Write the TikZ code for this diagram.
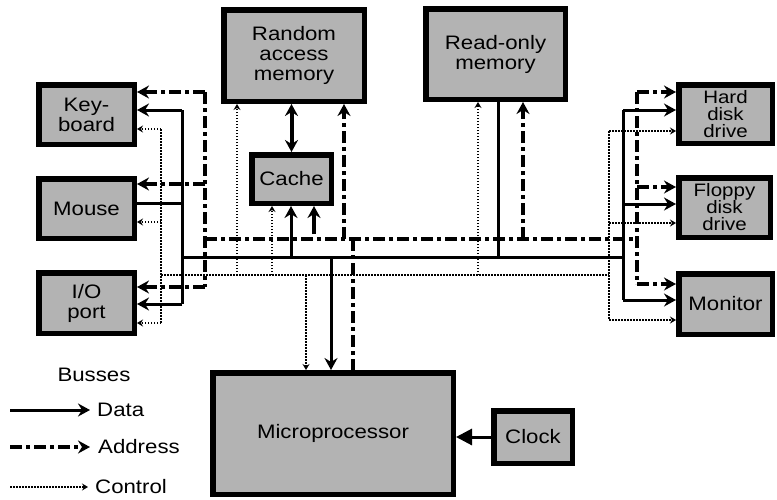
\documentclass[tikz,border=0pt]{standalone}
\usepackage{fontspec}
\setmainfont{Liberation Sans}[FakeStretch=1.14]
\usetikzlibrary{arrows.meta}
\definecolor{boxgray}{RGB}{179,179,179}
\tikzset{
  unit/.style={draw=black, fill=boxgray, line width=5.5pt, inner sep=0pt,
    align=center, font=\fontsize{19.5}{20}\selectfont},
  tightunit/.style={unit, font=\fontsize{18}{17}\selectfont},
  databus/.style={line width=3pt},
  addrbus/.style={line width=4pt, dash pattern=on 12pt off 4pt on 4pt off 4pt},
  ctrlbus/.style={line width=1.5pt, dash pattern=on 1.5pt off 1.5pt},
  bighead/.style={-{Stealth[length=12pt,width=13pt,inset=4pt]}},
  bothheads/.style={{Stealth[length=12pt,width=13pt,inset=4pt]}-{Stealth[length=12pt,width=13pt,inset=4pt]}},
  smallhead/.style={-{Stealth[length=6pt,width=7pt,inset=2pt]}},
  clockhead/.style={-{Triangle[length=16pt,width=16pt]}},
  legendtext/.style={anchor=west, inner sep=0pt, font=\fontsize{19.5}{20}\selectfont},
}
\begin{document}
\begin{tikzpicture}[x=1pt,y=-1pt]
\useasboundingbox (0,0) rectangle (777,499);

% units
\node[unit, minimum width=95.5pt, minimum height=59.5pt] (kbd) at (86.5,114.5) {Key-\\board};
\node[unit, minimum width=95.5pt, minimum height=59.5pt] (mouse) at (86.5,208.5) {Mouse};
\node[unit, minimum width=95.5pt, minimum height=60.5pt] (io) at (86.5,303) {I/O\\port};
\node[unit, minimum width=140.5pt, minimum height=91.5pt] (ram) at (294,55.5) {Random\\access\\memory};
\node[unit, minimum width=79.5pt, minimum height=48.5pt] (cache) at (291.5,179) {Cache};
\node[unit, minimum width=139.5pt, minimum height=90.5pt] (rom) at (495.5,54) {Read-only\\memory};
\node[tightunit, minimum width=93.5pt, minimum height=58.5pt] (hdd) at (725.5,114) {Hard\\disk\\drive};
\node[tightunit, minimum width=91.5pt, minimum height=59.5pt] (fdd) at (724.5,207.5) {Floppy\\disk\\drive};
\node[unit, minimum width=93.5pt, minimum height=60.5pt] (mon) at (725.5,304) {Monitor};
\node[unit, minimum width=240.5pt, minimum height=121.5pt] (micro) at (333,433.5) {Microprocessor};
\node[unit, minimum width=78.5pt, minimum height=52.5pt] (clock) at (533,437) {Clock};

% address bus
\coordinate (aL1) at (205,92);
\coordinate (aL2) at (205,184);
\coordinate (aL3) at (205,239);
\coordinate (aL4) at (205,287);
\coordinate (aR1) at (637,92);
\coordinate (aR2) at (637,187);
\coordinate (aR3) at (637,239);
\coordinate (aR4) at (637,284);
\coordinate (aRam) at (344,239);
\coordinate (aRom) at (523,239);
\coordinate (aMic) at (353,239);
\coordinate (aStub) at (314,234);
\draw[addrbus] (aL1) -- (aL4);
\draw[addrbus] (aL3) -- (aR3);
\draw[addrbus] (aR1) -- (aR4);
\draw[addrbus,bighead] (aL1) -- (aL1 -| kbd.east);
\draw[addrbus,bighead] (aL2) -- (aL2 -| mouse.east);
\draw[addrbus,bighead] (aL4) -- (aL4 -| io.east);
\draw[addrbus,bighead] (aR1) -- (aR1 -| hdd.west);
\draw[addrbus,bighead] (aR2) -- (aR2 -| fdd.west);
\draw[addrbus,bighead] (aR4) -- (aR4 -| mon.west);
\draw[addrbus,bighead] (aRam) -- (aRam |- ram.south);
\draw[addrbus,bighead] (aRom) -- (aRom |- rom.south);
\draw[addrbus] (aMic) -- (aMic |- micro.north);
\draw[line width=4pt,bighead] (aStub) -- (aStub |- cache.south);

% data bus
\coordinate (dL1) at (182,110);
\coordinate (dL2) at (182,203);
\coordinate (dL3) at (182,257);
\coordinate (dL4) at (182,304);
\coordinate (dR1) at (623,110);
\coordinate (dR2) at (623,204);
\coordinate (dR3) at (623,257);
\coordinate (dR4) at (623,300);
\coordinate (dCache) at (291,257);
\coordinate (dRom) at (498,257);
\coordinate (dMic) at (331,257);
\draw[databus] (dL1) -- (dL4);
\draw[databus] (dL3) -- (dR3);
\draw[databus] (dR1) -- (dR4);
\draw[databus,bighead] (dL1) -- (dL1 -| kbd.east);
\draw[databus] (dL2) -- (dL2 -| mouse.east);
\draw[databus,bighead] (dL4) -- (dL4 -| io.east);
\draw[databus,bighead] (dR1) -- (dR1 -| hdd.west);
\draw[databus,bighead] (dR2) -- (dR2 -| fdd.west);
\draw[databus,bighead] (dR4) -- (dR4 -| mon.west);
\draw[databus,bighead] (dCache) -- (dCache |- cache.south);
\draw[databus] (dRom) -- (dRom |- rom.south);
\draw[databus,bighead] (dMic) -- (dMic |- micro.north);
\draw[line width=4pt,bothheads] (ram.south -| cache.north) -- (cache.north);

% control bus
\coordinate (cL1) at (161,129);
\coordinate (cL2) at (161,222);
\coordinate (cL3) at (161,275);
\coordinate (cL4) at (161,323);
\coordinate (cR1) at (609,131);
\coordinate (cR2) at (609,223);
\coordinate (cR3) at (609,275);
\coordinate (cR4) at (609,320);
\coordinate (cRam) at (237,275);
\coordinate (cCache) at (272,275);
\coordinate (cRom) at (478,275);
\coordinate (cMic) at (306,275);
\draw[ctrlbus] (cL1) -- (cL4);
\draw[ctrlbus] (cL3) -- (cR3);
\draw[ctrlbus] (cR1) -- (cR4);
\draw[ctrlbus,smallhead] (cL1) -- (cL1 -| kbd.east);
\draw[ctrlbus,smallhead] (cL2) -- (cL2 -| mouse.east);
\draw[ctrlbus,smallhead] (cL4) -- (cL4 -| io.east);
\draw[ctrlbus,smallhead] (cR1) -- (cR1 -| hdd.west);
\draw[ctrlbus,smallhead] (cR2) -- (cR2 -| fdd.west);
\draw[ctrlbus,smallhead] (cR4) -- (cR4 -| mon.west);
\draw[ctrlbus,smallhead] (cRam) -- (cRam |- ram.south);
\draw[ctrlbus,smallhead] (cCache) -- (cCache |- cache.south);
\draw[ctrlbus,smallhead] (cRom) -- (cRom |- rom.south);
\draw[ctrlbus,smallhead] (cMic) -- (cMic |- micro.north);

% clock
\draw[line width=3pt,clockhead] (clock.west) -- (micro.east |- clock.west);

% legend
\node[inner sep=0pt, font=\fontsize{19.5}{20}\selectfont] (busses) at (94,375) {Busses};
\coordinate (lgD) at (10,410);
\coordinate (lgA) at (10,447);
\coordinate (lgC) at (10,487);
\node[legendtext] (txD) at (97,410) {Data};
\node[legendtext] (txA) at (98,447) {Address};
\node[legendtext] (txC) at (95,487) {Control};
\draw[databus,bighead] (lgD) -- ([xshift=-7pt]txD.west);
\draw[addrbus,bighead] (lgA) -- ([xshift=-8pt]txA.west);
\draw[ctrlbus,smallhead] (lgC) -- ([xshift=-7pt]txC.west);
\end{tikzpicture}
\end{document}
